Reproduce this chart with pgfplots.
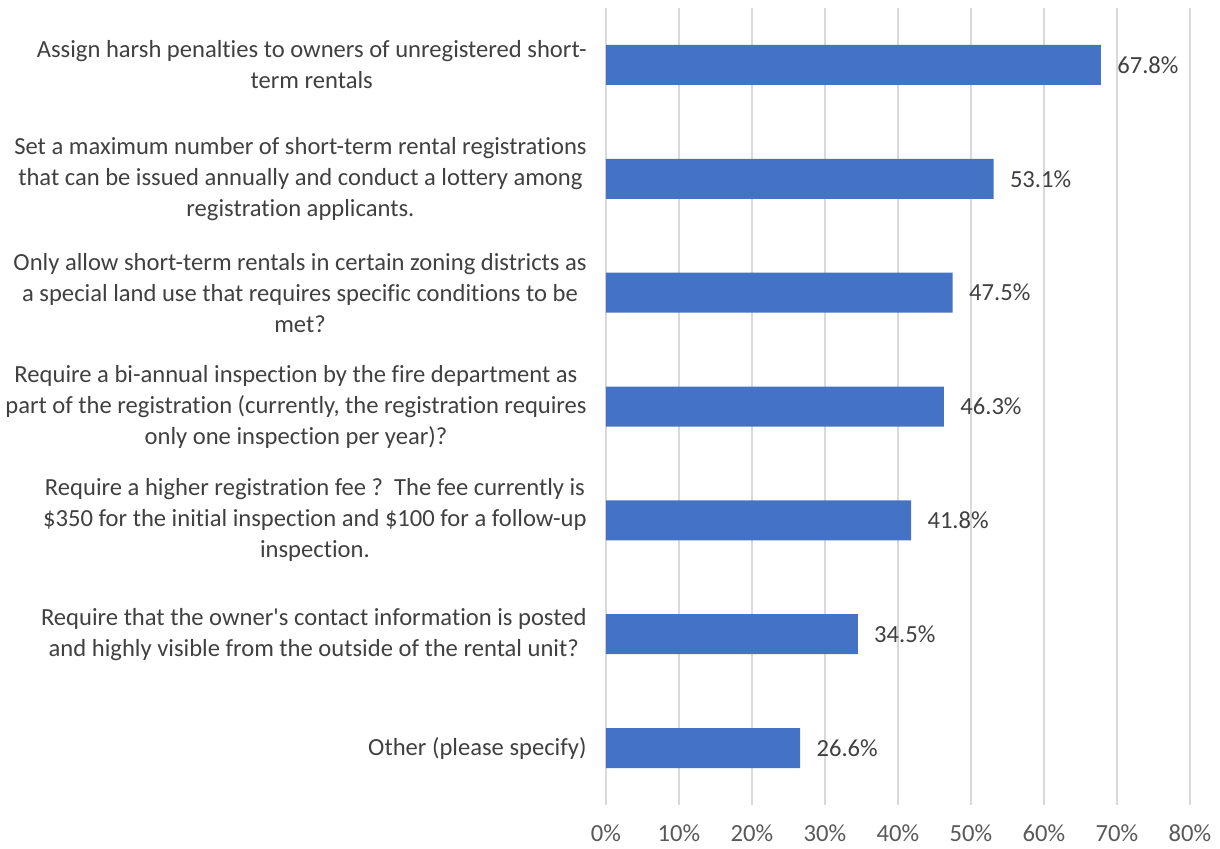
\documentclass[border=0pt]{standalone}
\usepackage{pgfplots}
\pgfplotsset{compat=1.18}
\usepackage{fontspec}
\setmainfont{Carlito}[Ligatures={NoCommon}]
\definecolor{barblue}{HTML}{4472C4}
\definecolor{gridgray}{HTML}{D9D9D9}
\definecolor{textgray}{HTML}{595959}
\definecolor{labelgray}{HTML}{404040}
\newcommand{\lblfont}{\fontsize{12.3pt}{15.5pt}\selectfont}
\begin{document}
\lblfont
\begin{tikzpicture}
\begin{axis}[
  name=main,
  scale only axis,
  width=292pt, height=398.5pt,
  xbar, bar width=20pt,
  xmin=0, xmax=80,
  ymin=-0.5, ymax=6.5,
  y dir=reverse,
  axis line style={draw=none},
  xtick={0,10,...,80},
  xticklabel={\pgfmathprintnumber{\tick}\%},
  ytick={0,...,6},
  yticklabels={
    {Assign harsh penalties to owners of unregistered short-\\term rentals},
    {Set a maximum number of short-term rental registrations\\that can be issued annually and conduct a lottery among\\registration applicants.},
    {Only allow short-term rentals in certain zoning districts as\\a special land use that requires specific conditions to be\\met?},
    {Require a bi-annual inspection by the fire department as\\part of the registration (currently, the registration requires\\only one inspection per year)?},
    {Require a higher registration fee ?\ \ The fee currently is\\\$350 for the initial inspection and \$100 for a follow-up\\inspection.},
    {Require that the owner\textquotesingle s contact information is posted\\and highly visible from the outside of the rental unit?},
    {Other (please specify)}
  },
  major tick length=0pt,
  xmajorgrids, grid style={gridgray, line width=0.75pt},
  ymajorgrids=false,
  /pgf/number format/assume math mode=true,
  yticklabel style={align=center, font=\lblfont, text=labelgray, inner sep=0pt, xshift=-9.5pt},
  xticklabel style={font=\lblfont, text=textgray, inner sep=0pt, yshift=-9.5pt},
  point meta=x,
  nodes near coords={\pgfmathprintnumber[fixed,fixed zerofill,precision=1]{\pgfplotspointmeta}\%},
  nodes near coords style={font=\lblfont, text=labelgray, anchor=west, inner sep=0pt, xshift=8pt},
]
\addplot[fill=barblue, draw=none] coordinates {
  (67.8,0) (53.1,1) (47.5,2) (46.3,3) (41.8,4) (34.5,5) (26.6,6)
};
\end{axis}
% page frame around the axis, as in the reference
\path (main.south west) ++(-303pt,-21.5pt) coordinate (bbA);
\path (main.south west) ++(307pt,402.5pt) coordinate (bbB);
\path[use as bounding box] (bbA) rectangle (bbB);
\end{tikzpicture}
\end{document}
